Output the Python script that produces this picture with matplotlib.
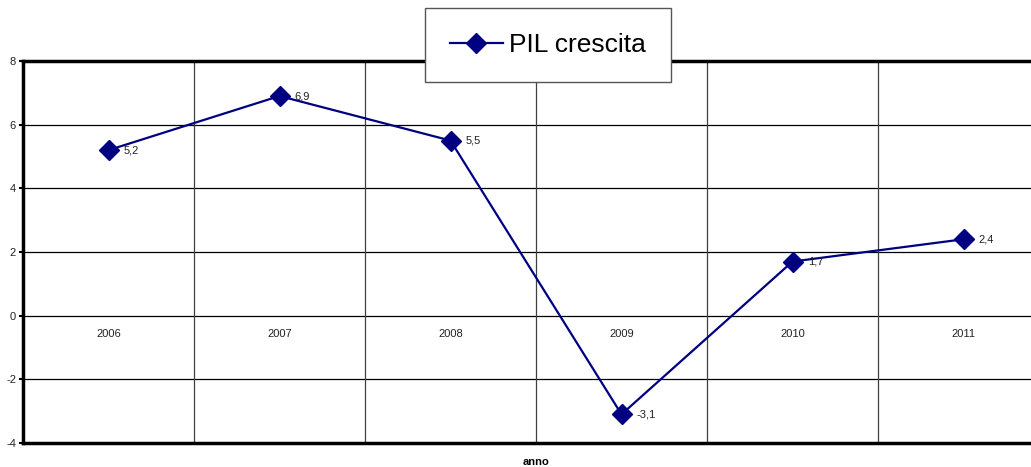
import matplotlib
matplotlib.use("Agg")
import matplotlib.pyplot as plt
import numpy as np

plt.rcParams['font.family'] = ['Liberation Sans', 'DejaVu Sans']

years = ["2006", "2007", "2008", "2009", "2010", "2011"]
pil = [5.2, 6.9, 5.5, -3.1, 1.7, 2.4]
series_name = "PIL crescita"
y_ticks = [-4, -2, 0, 2, 4, 6, 8]

W, H = 1031, 467
fig = plt.figure(figsize=(W/100, H/100), dpi=100)
ax = fig.add_axes([23/W, 24/H, 1026/W, 382/H])

x = np.arange(len(years))
ax.set_xlim(-0.5, len(years) - 0.5)
ax.set_ylim(-4, 8)

# gridlines
for yt in y_ticks:
    ax.axhline(yt, color='black', lw=0.9, zorder=1)
for b in np.arange(-0.5, len(years) + 0.5, 1.0):
    ax.axvline(b, color='#404040', lw=0.9, zorder=1)

line, = ax.plot(x, pil, color='#000080', lw=1.6, marker='D', markersize=10,
                markerfacecolor='#000080', markeredgecolor='#000080', zorder=3,
                label=series_name, clip_on=False)

for xi, v in zip(x, pil):
    ax.annotate(f"{v:.1f}".replace('.', ','), (xi, v), xytext=(11, 0),
                textcoords='offset points', va='center', ha='left', fontsize=8,
                color='#222222', zorder=4)

# category labels just below zero line
ax.set_xticks(x)
ax.set_xticklabels([])
for xi, lab in zip(x, years):
    ax.annotate(lab, (xi, 0), xytext=(0, -13), textcoords='offset points',
                ha='center', va='center', fontsize=8, color='#222222')

ax.set_yticks(y_ticks)
ax.set_yticklabels([str(t) for t in y_ticks], fontsize=8, color='#222222')
ax.tick_params(axis='y', length=3, width=1.5, pad=2)
ax.tick_params(axis='x', length=0)

ax.spines['right'].set_visible(False)
ax.spines['left'].set_linewidth(2.5)
ax.spines['top'].set_linewidth(2.5)
ax.spines['bottom'].set_linewidth(2.5)

fig.text(536/W, 1 - 462/H, "anno", ha='center', va='center', fontsize=8,
         fontweight='bold')

leg = fig.legend(handles=[line], loc='center', bbox_to_anchor=(548/W, 1 - 45/H),
                 fontsize=19, frameon=True, fancybox=False, shadow=False,
                 handlelength=2.0, handletextpad=0.25, borderpad=0.95,
                 borderaxespad=0)
leg.get_frame().set_edgecolor('#555555')
leg.get_frame().set_linewidth(1.0)
leg.get_frame().set_alpha(1.0)

fig.savefig("out.png", dpi=100)
